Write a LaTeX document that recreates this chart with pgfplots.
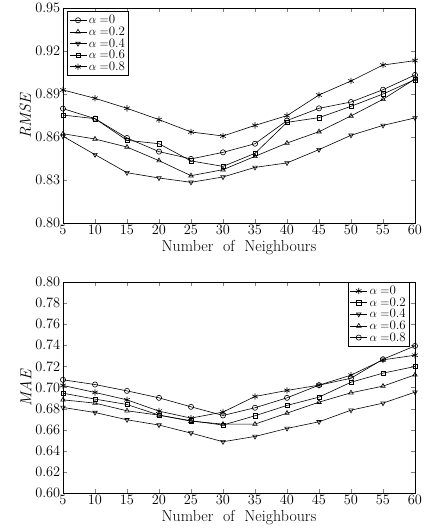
\documentclass[border=0pt]{standalone}
\usepackage{pgfplots}
\pgfplotsset{compat=1.18}
\begin{document}
\begin{tikzpicture}
\useasboundingbox (-63bp,-38bp) rectangle (365bp,493bp);
\pgfplotsset{
  every axis/.append style={
    scale only axis, width=352bp,
    xmin=5, xmax=60, xtick={5,10,...,60},
    tick label style={font=\fontsize{14}{16}\selectfont},
    label style={font=\fontsize{16}{18}\selectfont},
    xlabel={Number\ \ of\ \ Neighbours},
    xlabel style={yshift=1.5bp},
    ylabel style={yshift=-3bp},
    yticklabel style={xshift=1bp},
    xticklabel style={yshift=1bp},
    tick align=inside, line width=0.8pt,
    legend style={font=\fontsize{13}{14}\selectfont, draw=black, line width=1pt, inner sep=1.5pt, row sep=-2.5pt},
    legend cell align=left,
    every axis plot/.append style={black, line width=0.6pt, mark size=2.6bp, mark options={solid, fill=white, line width=0.6pt}},
  },
}
\begin{axis}[at={(0bp,270bp)}, anchor=south west, height=215bp,
  ymin=0.80, ymax=0.95, ytick={0.80,0.83,0.86,0.89,0.92,0.95},
  yticklabel style={/pgf/number format/.cd, fixed, fixed zerofill, precision=2},
  ylabel={\textit{RMSE}},
  legend style={at={(0.012,0.985)}, anchor=north west},
]
\addplot[mark=o] coordinates {(5,0.8798)(10,0.8728)(15,0.8593)(20,0.8498)(25,0.8447)(30,0.8493)(35,0.8553)(40,0.8715)(45,0.8800)(50,0.8844)(55,0.8930)(60,0.9033)};
\addlegendentry{$\alpha=$0}
\addplot[mark=triangle] coordinates {(5,0.8623)(10,0.8586)(15,0.8530)(20,0.8435)(25,0.8330)(30,0.8372)(35,0.8465)(40,0.8558)(45,0.8637)(50,0.8747)(55,0.8863)(60,0.9005)};
\addlegendentry{$\alpha=$0.2}
\addplot[mark=triangle,mark options={solid,fill=white,rotate=180}] coordinates {(5,0.8605)(10,0.8477)(15,0.8351)(20,0.8314)(25,0.8284)(30,0.8321)(35,0.8388)(40,0.8419)(45,0.8512)(50,0.8612)(55,0.8681)(60,0.8733)};
\addlegendentry{$\alpha=$0.4}
\addplot[mark=square,mark size=2.2bp] coordinates {(5,0.8753)(10,0.8728)(15,0.8577)(20,0.8553)(25,0.8433)(30,0.8395)(35,0.8486)(40,0.8702)(45,0.8735)(50,0.8814)(55,0.8900)(60,0.9000)};
\addlegendentry{$\alpha=$0.6}
\addplot[mark=asterisk,mark size=3.2bp] coordinates {(5,0.8928)(10,0.8870)(15,0.8800)(20,0.8721)(25,0.8635)(30,0.8607)(35,0.8681)(40,0.8749)(45,0.8893)(50,0.8991)(55,0.9102)(60,0.9133)};
\addlegendentry{$\alpha=$0.8}
\end{axis}
\begin{axis}[at={(0bp,0bp)}, anchor=south west, height=211bp,
  ymin=0.60, ymax=0.80, ytick={0.60,0.62,...,0.80},
  yticklabel style={/pgf/number format/.cd, fixed, fixed zerofill, precision=2},
  ylabel={\textit{MAE}},
  legend style={at={(0.985,1)}, anchor=north east},
]
\addplot[mark=asterisk,mark size=3.2bp] coordinates {(5,0.7019)(10,0.6953)(15,0.6883)(20,0.6776)(25,0.6710)(30,0.6767)(35,0.6915)(40,0.6972)(45,0.7022)(50,0.7117)(55,0.7262)(60,0.7306)};
\addlegendentry{$\alpha=$0}
\addplot[mark=square,mark size=2.2bp] coordinates {(5,0.6946)(10,0.6890)(15,0.6839)(20,0.6738)(25,0.6685)(30,0.6644)(35,0.6732)(40,0.6830)(45,0.6909)(50,0.7050)(55,0.7136)(60,0.7199)};
\addlegendentry{$\alpha=$0.2}
\addplot[mark=triangle,mark options={solid,fill=white,rotate=180}] coordinates {(5,0.6811)(10,0.6763)(15,0.6694)(20,0.6644)(25,0.6568)(30,0.6486)(35,0.6536)(40,0.6612)(45,0.6675)(50,0.6785)(55,0.6852)(60,0.6956)};
\addlegendentry{$\alpha=$0.4}
\addplot[mark=triangle] coordinates {(5,0.6883)(10,0.6852)(15,0.6779)(20,0.6738)(25,0.6681)(30,0.6653)(35,0.6653)(40,0.6757)(45,0.6861)(50,0.6950)(55,0.7013)(60,0.7120)};
\addlegendentry{$\alpha=$0.6}
\addplot[mark=o] coordinates {(5,0.7073)(10,0.7028)(15,0.6968)(20,0.6902)(25,0.6817)(30,0.6735)(35,0.6808)(40,0.6902)(45,0.7022)(50,0.7088)(55,0.7268)(60,0.7394)};
\addlegendentry{$\alpha=$0.8}
\end{axis}
\end{tikzpicture}
\end{document}
